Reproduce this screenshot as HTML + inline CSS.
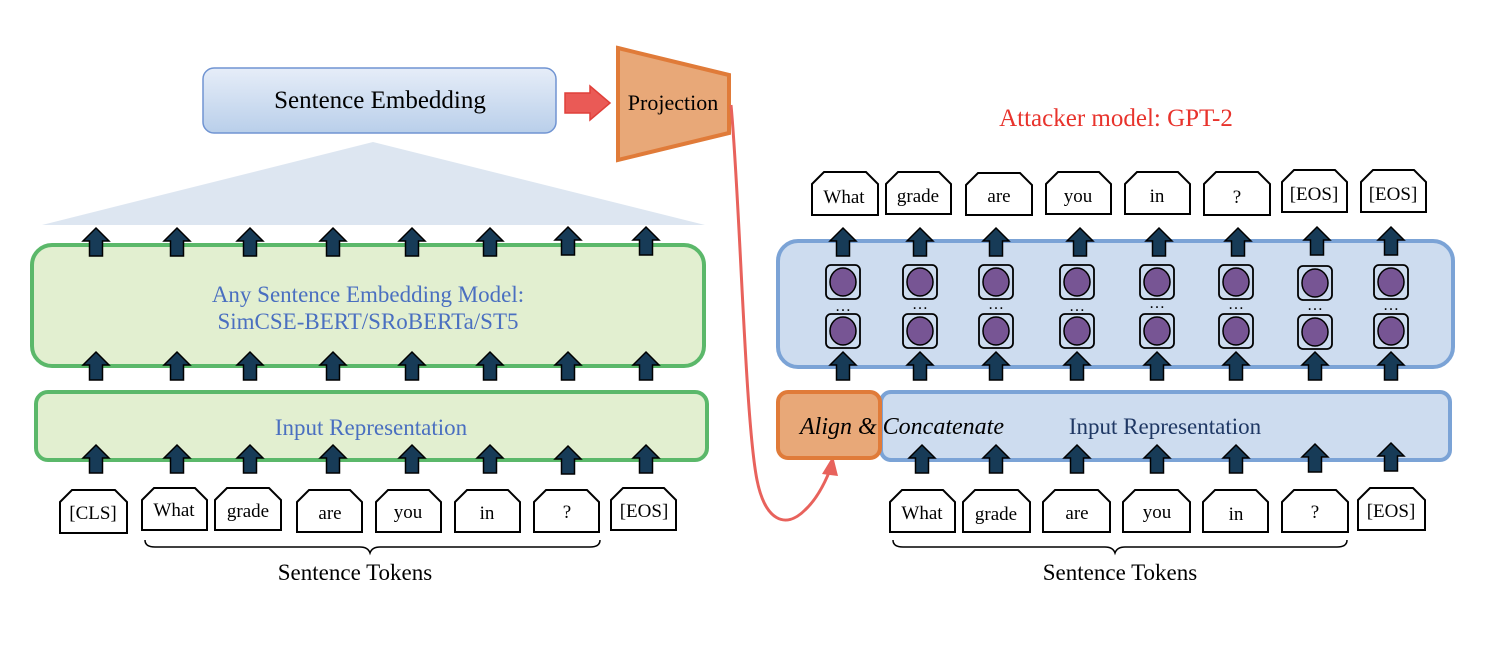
<!DOCTYPE html>
<html><head><meta charset="utf-8"><style>
html,body{margin:0;padding:0;background:#fff;}
svg{display:block;font-family:"Liberation Serif",serif;}
</style></head><body>
<svg width="1500" height="666" viewBox="0 0 1500 666" xmlns="http://www.w3.org/2000/svg">
<defs>
<linearGradient id="sg" x1="0" y1="0" x2="0" y2="1"><stop offset="0" stop-color="#e6edf8"/><stop offset="1" stop-color="#b9cfea"/></linearGradient>
<path id="ar" d="M0,0 L13,13 L6.5,13 L6.5,28 L-6.5,28 L-6.5,13 L-13,13 Z" fill="#173b57" stroke="#000" stroke-width="1.5"/>
<g id="nr"><rect x="-17" y="-17" width="34" height="34" rx="5" fill="none" stroke="#000" stroke-width="1.8"/><ellipse cx="0" cy="0" rx="13" ry="14" fill="#775594" stroke="#000" stroke-width="1.5"/></g>
</defs>

<rect x="203" y="68" width="353" height="65" rx="11" fill="url(#sg)" stroke="#7094d2" stroke-width="1.5"/>
<text x="380" y="108" font-size="25" text-anchor="middle">Sentence Embedding</text>
<path d="M565,93 L590,93 L590,86 L610,103 L590,120 L590,113 L565,113 Z" fill="#ea5a56" stroke="#e0403a" stroke-width="1.5"/>
<path d="M618,48 L729,75 L729,133 L618,160 Z" fill="#e8a878" stroke="#e07b39" stroke-width="4"/>
<text x="673" y="110" font-size="22" text-anchor="middle">Projection</text>
<polygon points="373,142 705,225 42,225" fill="#dde6f1"/>

<rect x="32" y="245" width="672" height="121" rx="20" fill="#e2efd0" stroke="#5bb86a" stroke-width="4"/>
<text x="368" y="302" font-size="23" text-anchor="middle" fill="#4a6fc0">Any Sentence Embedding Model:</text>
<text x="368" y="329" font-size="23" text-anchor="middle" fill="#4a6fc0">SimCSE-BERT/SRoBERTa/ST5</text>
<rect x="36" y="392" width="671" height="68" rx="12" fill="#e2efd0" stroke="#5bb86a" stroke-width="4"/>
<text x="371" y="435" font-size="23" text-anchor="middle" fill="#4a6fc0">Input Representation</text>

<g>
<use href="#ar" x="96" y="228"/><use href="#ar" x="177" y="228"/><use href="#ar" x="250" y="228"/><use href="#ar" x="333" y="228"/><use href="#ar" x="412" y="228"/><use href="#ar" x="490" y="228"/><use href="#ar" x="568" y="227"/><use href="#ar" x="646" y="227"/>
<use href="#ar" x="96" y="352"/><use href="#ar" x="177" y="352"/><use href="#ar" x="250" y="352"/><use href="#ar" x="333" y="352"/><use href="#ar" x="412" y="352"/><use href="#ar" x="490" y="352"/><use href="#ar" x="568" y="352"/><use href="#ar" x="646" y="352"/>
<use href="#ar" x="96" y="445"/><use href="#ar" x="177" y="445"/><use href="#ar" x="250" y="445"/><use href="#ar" x="333" y="445"/><use href="#ar" x="412" y="445"/><use href="#ar" x="490" y="445"/><use href="#ar" x="568" y="446"/><use href="#ar" x="646" y="445"/>
</g>

<g fill="#fff" stroke="#000" stroke-width="2">
<path d="M60,502 L72,490 L115,490 L127,502 L127,533 L60,533 Z"/>
<path d="M142,500 L154,488 L195,488 L207,500 L207,530 L142,530 Z"/>
<path d="M215,500 L227,488 L269,488 L281,500 L281,530 L215,530 Z"/>
<path d="M297,502 L309,490 L350,490 L362,502 L362,532 L297,532 Z"/>
<path d="M376,502 L388,490 L429,490 L441,502 L441,532 L376,532 Z"/>
<path d="M455,502 L467,490 L508,490 L520,502 L520,532 L455,532 Z"/>
<path d="M534,502 L546,490 L587,490 L599,502 L599,532 L534,532 Z"/>
<path d="M611,500 L623,488 L664,488 L676,500 L676,530 L611,530 Z"/>
</g>
<g font-size="19" text-anchor="middle">
<text x="93" y="519">[CLS]</text><text x="174" y="516">What</text><text x="248" y="517">grade</text><text x="330" y="519">are</text><text x="408" y="518">you</text><text x="487" y="519">in</text><text x="567" y="518">?</text><text x="644" y="517">[EOS]</text>
</g>
<path d="M145,540 Q145,547 155,547 L360,547 Q368,547 370,553 Q372,547 380,547 L590,547 Q600,547 600,540" fill="none" stroke="#000" stroke-width="1.5"/>
<text x="355" y="580" font-size="23" text-anchor="middle">Sentence Tokens</text>

<path d="M731,105 C740,200 745,420 757,480 C765,520 785,530 805,510 C818,498 826,480 830,470" fill="none" stroke="#e8625c" stroke-width="3"/>
<path d="M833,456 L822,474 L838,476 Z" fill="#e8625c"/>

<text x="1116" y="126" font-size="25" text-anchor="middle" fill="#e8332c">Attacker model: GPT-2</text>
<g fill="#fff" stroke="#000" stroke-width="2">
<path d="M812,184 L824,172 L866,172 L878,184 L878,215 L812,215 Z"/>
<path d="M886,184 L898,172 L939,172 L951,184 L951,214 L886,214 Z"/>
<path d="M966,185 L978,173 L1020,173 L1032,185 L1032,215 L966,215 Z"/>
<path d="M1046,184 L1058,172 L1099,172 L1111,184 L1111,214 L1046,214 Z"/>
<path d="M1125,184 L1137,172 L1178,172 L1190,184 L1190,214 L1125,214 Z"/>
<path d="M1204,184 L1216,172 L1258,172 L1270,184 L1270,215 L1204,215 Z"/>
<path d="M1282,182 L1294,170 L1335,170 L1347,182 L1347,212 L1282,212 Z"/>
<path d="M1361,182 L1373,170 L1414,170 L1426,182 L1426,212 L1361,212 Z"/>
</g>
<g font-size="19" text-anchor="middle">
<text x="844" y="203">What</text><text x="918" y="202">grade</text><text x="999" y="202">are</text><text x="1078" y="202">you</text><text x="1157" y="202">in</text><text x="1237" y="203">?</text><text x="1314" y="200">[EOS]</text><text x="1393" y="200">[EOS]</text>
</g>

<rect x="778" y="241" width="675" height="126" rx="20" fill="#cddcef" stroke="#7ba3d6" stroke-width="4"/>
<g>
<use href="#nr" x="843" y="282"/><use href="#nr" x="920" y="282"/><use href="#nr" x="996" y="282"/><use href="#nr" x="1077" y="282"/><use href="#nr" x="1157" y="282"/><use href="#nr" x="1236" y="282"/><use href="#nr" x="1315" y="283"/><use href="#nr" x="1391" y="282"/>
<use href="#nr" x="843" y="331"/><use href="#nr" x="920" y="331"/><use href="#nr" x="996" y="331"/><use href="#nr" x="1077" y="331"/><use href="#nr" x="1157" y="331"/><use href="#nr" x="1236" y="331"/><use href="#nr" x="1315" y="332"/><use href="#nr" x="1391" y="331"/>
</g>
<g font-size="16" text-anchor="middle">
<text x="843" y="311">…</text><text x="920" y="309">…</text><text x="996" y="309">…</text><text x="1077" y="311">…</text><text x="1157" y="308">…</text><text x="1236" y="309">…</text><text x="1315" y="310">…</text><text x="1391" y="310">…</text>
</g>
<g>
<use href="#ar" x="843" y="228"/><use href="#ar" x="920" y="228"/><use href="#ar" x="996" y="228"/><use href="#ar" x="1080" y="228"/><use href="#ar" x="1159" y="228"/><use href="#ar" x="1238" y="228"/><use href="#ar" x="1317" y="227"/><use href="#ar" x="1391" y="227"/>
<use href="#ar" x="843" y="352"/><use href="#ar" x="920" y="352"/><use href="#ar" x="996" y="352"/><use href="#ar" x="1077" y="352"/><use href="#ar" x="1157" y="352"/><use href="#ar" x="1236" y="352"/><use href="#ar" x="1315" y="352"/><use href="#ar" x="1391" y="352"/>
</g>

<rect x="881" y="392" width="569" height="68" rx="10" fill="#cddcef" stroke="#7ba3d6" stroke-width="4"/>
<rect x="778" y="392" width="102" height="66" rx="10" fill="#e8a878" stroke="#e07b39" stroke-width="4"/>
<text x="800" y="434" font-size="24" font-style="italic">Align &amp; Concatenate</text>
<text x="1165" y="434" font-size="23" text-anchor="middle" fill="#1f3864">Input Representation</text>
<g>
<use href="#ar" x="922" y="445"/><use href="#ar" x="996" y="445"/><use href="#ar" x="1077" y="445"/><use href="#ar" x="1157" y="445"/><use href="#ar" x="1236" y="445"/><use href="#ar" x="1315" y="444"/><use href="#ar" x="1391" y="443"/>
</g>
<g fill="#fff" stroke="#000" stroke-width="2">
<path d="M890,502 L902,490 L943,490 L955,502 L955,532 L890,532 Z"/>
<path d="M963,502 L975,490 L1018,490 L1030,502 L1030,532 L963,532 Z"/>
<path d="M1043,502 L1055,490 L1098,490 L1110,502 L1110,532 L1043,532 Z"/>
<path d="M1123,502 L1135,490 L1178,490 L1190,502 L1190,532 L1123,532 Z"/>
<path d="M1203,502 L1215,490 L1256,490 L1268,502 L1268,532 L1203,532 Z"/>
<path d="M1282,502 L1294,490 L1336,490 L1348,502 L1348,532 L1282,532 Z"/>
<path d="M1358,500 L1370,488 L1413,488 L1425,500 L1425,530 L1358,530 Z"/>
</g>
<g font-size="19" text-anchor="middle">
<text x="922" y="519">What</text><text x="996" y="520">grade</text><text x="1077" y="519">are</text><text x="1157" y="518">you</text><text x="1236" y="520">in</text><text x="1315" y="518">?</text><text x="1391" y="517">[EOS]</text>
</g>
<path d="M893,540 Q893,547 903,547 L1105,547 Q1113,547 1115,553 Q1117,547 1125,547 L1337,547 Q1347,547 1347,540" fill="none" stroke="#000" stroke-width="1.5"/>
<text x="1120" y="580" font-size="23" text-anchor="middle">Sentence Tokens</text>
</svg>
</body></html>
